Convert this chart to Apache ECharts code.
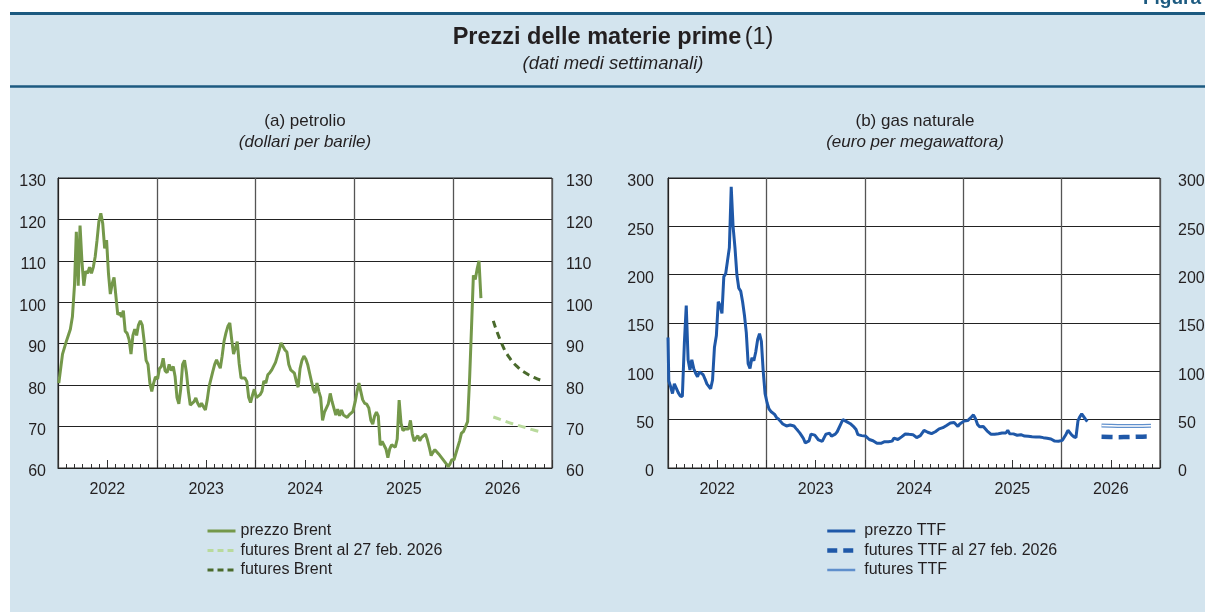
<!DOCTYPE html>
<html><head><meta charset="utf-8">
<script src="https://cdn.jsdelivr.net/npm/echarts@6/dist/echarts.min.js"></script>
<style>html,body{margin:0;padding:0;background:#fff}#c{width:1205px;height:612px}</style>
</head><body><div id="c"></div>
<script>
// ---------- DATA ----------
const yearLabels = ['2022','2023','2024','2025','2026'];
const brentTicks = [60,70,80,90,100,110,120,130];
const ttfTicks = [0,50,100,150,200,250,300];

// Brent weekly averages (USD/barrel), one array per year (weeks from early January)
const brent2022 = [80.5,84,87.5,89,90.5,92,93.5,96.5,104,117,104,118.5,110,104,107.5,107,108.5,107,108.5,111,115,119.5,121.5,119,113,115,107,102,104.5,106,101.5,97,97.5,96.5,98,93,92.5,91,87.5,92,93.5,92,94.5,95.5,94.5,90.5,86,85,80.5,78.5,80.5,82];
const brent2023 = [81.5,84,84.5,86.5,83.5,83,85,83.5,84.5,82,77,75.5,79,85,86,83,78.5,75.2,75.6,76,76.9,75.6,74.8,75.6,74.8,74,76.5,79.7,80,83.3,85,86.1,85,84.1,87,90.6,92.6,94.2,95,91,87.5,89,90.5,85.3,81.7,81.3,81.7,80.9,77,75.8,77.5,79];
const brent2024 = [77,77.3,77.7,78.5,81,80.5,82.5,83,83.7,83.3,85.5,87,88.5,90.2,90,88.5,88,85,83.7,83.3,82.9,81,79.5,84,86,87,86.3,85,83,81,79,78.1,80.5,78.5,77,71.5,73.5,73.6,75.5,78,76,74.4,72.8,74.2,72.6,74,72.8,72.8,72.2,72.8,73.2,73.6];
const brent2025 = [76,78.5,80.5,78.5,76.5,75.6,75.4,74.5,71.5,70.6,72.5,73.5,72.5,65.5,66.4,66.4,64.6,62.5,64.6,65.6,65.2,65,67,76.4,70.8,69,69.5,69.2,69.4,71.5,68.2,66.5,67.2,67.8,66.6,67.4,67.2,68.2,66.8,65,63,63.8,64.4,64,63.4,62.8,62.2,61.8,61,60.3,61,62];
const brent2026 = [62,63.5,65,66.5,68.4,68.8,70,71.2,82,94,106.5,105.5,108,110,101];

const futuresDates = ['2026-05-28','2026-06-28','2026-07-28','2026-08-28','2026-09-28','2026-10-28','2026-11-28'];
const brentFut27feb = [72.3,71.6,70.9,70.3,69.7,69.1,68.6];
const brentFut = [95.5,90,86.5,84.3,82.8,81.8,81];

// TTF weekly averages (EUR/MWh)
const ttfLeadDate = '2022-01-01';
const ttfLead = 135;
const ttf2022 = [90,84,77,87,88,78,74.5,74,130,168,112,101.5,112,103,98,94.5,99.5,100.5,96.5,92,87,85,82,91,125,137,172,168,160,198,201,203,228,291,250,228,200,186,183,172,158,140,108,103,114,111,120,133,139,131,100,77];
const ttf2023 = [67,61,58.5,57.5,55.5,52,50.5,48,45.5,44.5,43.5,41.5,44.5,42.5,43.5,41,38.7,36.3,33.5,30.5,26,24,28,35,34.5,34,33,29,27,27.5,28.5,35,36.8,36,33,31.8,35,37.5,37,46,50,50.7,48,46.5,45.8,44,42.2,39.8,34.5,34.2,33.5,32.8];
const ttf2024 = [33,31,29.5,28.6,28.2,27.5,25.5,24.5,25.5,26.5,27.2,27.9,27.2,29,27.8,31,30.5,29.5,30.5,32.2,34,35.2,35.5,34.8,34.8,34.5,32.5,31.5,32,33.5,35.5,39,38.5,37,35.8,35.5,34.8,37.5,39.5,40.5,41,41.7,42.2,44,45.7,46.5,46.6,47,47.6,43,45.5,47.5];
const ttf2025 = [48.5,47.6,49,50.5,52.8,55,51,45,42.6,42.8,43,41.8,38.5,36.5,35,36,35,34,35.5,36.2,36.2,36.2,36.2,39,35.5,34.8,35.3,34.5,33.9,34.2,34.5,32.8,33,33.1,32.8,32.8,32.3,32.1,32.1,32.1,32.1,31.8,31.4,31.4,30.8,30.4,30,28.6,27.8,27.6,27.6,28];
const ttf2026 = [28.6,30.5,35,39,37.3,34,32.3,31.5,49,53,56,54,50.5,48];

const ttfFut27feb = [32.2,32,31.9,32,32.2,32.4,32.5];
const ttfFut = [44,43.7,43.5,43.4,43.4,43.5,43.7];

// ---------- HELPERS ----------
function monthIndex(d){
  const y=d.getUTCFullYear(), m=d.getUTCMonth(), day=d.getUTCDate();
  const dim=new Date(Date.UTC(y,m+1,0)).getUTCDate();
  return (y-2022)*12 + m + (day-1)/dim;
}
function weekly(year, arr){
  return arr.map((v,i)=>[monthIndex(new Date(Date.UTC(year,0,4+7*i))), v]);
}
function dated(dates, arr){
  return arr.map((v,i)=>[monthIndex(new Date(dates[i]+'T00:00:00Z')), v]);
}
const brentPrice = [].concat(weekly(2022,brent2022),weekly(2023,brent2023),weekly(2024,brent2024),weekly(2025,brent2025),weekly(2026,brent2026));
const ttfPrice = [].concat(dated([ttfLeadDate],[ttfLead]),weekly(2022,ttf2022),weekly(2023,ttf2023),weekly(2024,ttf2024),weekly(2025,ttf2025),weekly(2026,ttf2026));

const FONT = 'Liberation Sans, Arial, sans-serif';
const TXT = '#231f20';

function xAxesFor(g){
  const base = {gridIndex:g, type:'value', min:0, max:60, position:'bottom',
    axisLabel:{show:false}, splitLine:{show:false}, axisLine:{show:false, onZero:false}, axisTick:{show:false}};
  return [
    Object.assign({}, base, {interval:1, axisLine:{show:true, onZero:false, lineStyle:{color:'#222', width:1}},
      axisTick:{show:true, inside:true, length:4, lineStyle:{color:'#333', width:1}}}),
    Object.assign({}, base, {interval:12, splitLine:{show:true, lineStyle:{color:'#555', width:1.3}}}),
    Object.assign({}, base, {interval:6, axisTick:{show:true, inside:true, length:8, lineStyle:{color:'#333', width:1}}}),
    {gridIndex:g, type:'category', data:yearLabels, boundaryGap:true, position:'bottom',
      axisLine:{show:false, onZero:false}, axisTick:{show:false}, splitLine:{show:false},
      axisLabel:{show:true, fontSize:16, color:TXT, fontFamily:FONT, margin:14}}
  ];
}
const tickRich = {t:{fontSize:16, color:TXT, fontFamily:FONT, padding:[8,0,0,0]}};
function yAxesFor(g, ticks, rightMargin, leftMargin){
  const mn=ticks[0], mx=ticks[ticks.length-1], iv=ticks[1]-ticks[0];
  return [
    {gridIndex:g, type:'value', position:'left', min:mn, max:mx, interval:iv,
      axisLine:{show:true, lineStyle:{color:'#222'}}, axisTick:{show:false},
      axisLabel:{margin:leftMargin, formatter:v=>'{t|'+v+'}', rich:tickRich},
      splitLine:{show:true, lineStyle:{color:'#222', width:1}}},
    {gridIndex:g, type:'value', position:'right', min:mn, max:mx, interval:iv,
      axisLine:{show:true, lineStyle:{color:'#222'}}, axisTick:{show:false},
      axisLabel:{margin:rightMargin, align:'left', formatter:v=>'{t|'+v+'}', rich:tickRich},
      splitLine:{show:false}}
  ];
}

const cBrent='#74984a', cBrentFut27='#b9da9c', cBrentFut='#4a6a2c';
const cTTF='#1f58a8', cTTFFut='#5f8fcc';
const legendBase = {orient:'vertical', top:523, padding:0, itemWidth:28, itemHeight:12, itemGap:3.5,
  itemStyle:{opacity:0, color:'rgba(0,0,0,0)', borderWidth:0}, selectedMode:false};

const option = {
  animation:false,
  textStyle:{fontFamily:FONT},
  graphic:[
    {type:'rect', z:-100, shape:{x:10,y:12,width:1195,height:600}, style:{fill:'#d3e4ee'}},
    {type:'line', z:-50, shape:{x1:10,y1:13.5,x2:1205,y2:13.5}, style:{stroke:'#1c5a80', lineWidth:3}},
    {type:'line', z:-50, shape:{x1:10,y1:86.5,x2:1205,y2:86.5}, style:{stroke:'#1c5a80', lineWidth:2.5}},
    {type:'text', x:1201, y:-1, style:{text:'Figura', fill:'#1c5a80', font:'bold 19px '+FONT, align:'right', verticalAlign:'middle'}},
    {type:'text', x:613, y:38, style:{text:'{b|Prezzi delle materie prime} {n|(1)}', align:'center', verticalAlign:'middle',
      rich:{b:{font:'bold 23.5px '+FONT, fill:TXT}, n:{font:'23.5px '+FONT, fill:TXT}}}},
    {type:'text', x:613, y:64, style:{text:'(dati medi settimanali)', fill:TXT, font:'italic 18.5px '+FONT, align:'center', verticalAlign:'middle'}},
    {type:'text', x:305, y:121, style:{text:'(a) petrolio', fill:TXT, font:'17px '+FONT, align:'center', verticalAlign:'middle'}},
    {type:'text', x:305, y:142, style:{text:'(dollari per barile)', fill:TXT, font:'italic 17px '+FONT, align:'center', verticalAlign:'middle'}},
    {type:'text', x:915, y:121, style:{text:'(b) gas naturale', fill:TXT, font:'17px '+FONT, align:'center', verticalAlign:'middle'}},
    {type:'text', x:915, y:142, style:{text:'(euro per megawattora)', fill:TXT, font:'italic 17px '+FONT, align:'center', verticalAlign:'middle'}}
  ],
  grid:[
    {left:58, top:178, width:494, height:290, show:true, backgroundColor:'#fff', borderColor:'#222', borderWidth:1, containLabel:false, outerBoundsMode:'none'},
    {left:668, top:178, width:492, height:290, show:true, backgroundColor:'#fff', borderColor:'#222', borderWidth:1, containLabel:false, outerBoundsMode:'none'}
  ],
  xAxis:[].concat(xAxesFor(0), xAxesFor(1)),
  yAxis:[].concat(yAxesFor(0, brentTicks, 14, 12), yAxesFor(1, ttfTicks, 18, 14)),
  legend:[
    Object.assign({}, legendBase, {left:206,
      data:[{name:'prezzo Brent', lineStyle:{width:3}},
            {name:'futures Brent al 27 feb. 2026', lineStyle:{width:3, type:[6,4]}},
            {name:'futures Brent', lineStyle:{width:3, type:[6,4]}}],
      textStyle:{fontSize:16, color:TXT, fontFamily:FONT}}),
    Object.assign({}, legendBase, {left:825,
      data:[{name:'prezzo TTF', lineStyle:{width:3}},
            {name:'futures TTF al 27 feb. 2026', lineStyle:{width:4.5, type:[10,6]}},
            {name:'futures TTF', lineStyle:{width:2.5, color:cTTFFut}}],
      textStyle:{fontSize:16, color:TXT, fontFamily:FONT, padding:[0,0,0,4]}})
  ],
  series:[
    {name:'prezzo Brent', type:'line', xAxisIndex:0, yAxisIndex:0, data:brentPrice, symbol:'none', clip:true,
      lineStyle:{color:cBrent, width:3}, itemStyle:{color:cBrent}},
    {name:'futures Brent al 27 feb. 2026', type:'line', xAxisIndex:0, yAxisIndex:0, data:dated(futuresDates, brentFut27feb), symbol:'none', smooth:true,
      lineStyle:{color:cBrentFut27, width:3, type:[8,5]}, itemStyle:{color:cBrentFut27}},
    {name:'futures Brent', type:'line', xAxisIndex:0, yAxisIndex:0, data:dated(futuresDates, brentFut), symbol:'none', smooth:true,
      lineStyle:{color:cBrentFut, width:3, type:[7,5]}, itemStyle:{color:cBrentFut}},
    {name:'prezzo TTF', type:'line', xAxisIndex:4, yAxisIndex:2, data:ttfPrice, symbol:'none', clip:true,
      lineStyle:{color:cTTF, width:3}, itemStyle:{color:cTTF}},
    {name:'futures TTF al 27 feb. 2026', type:'line', xAxisIndex:4, yAxisIndex:2, data:dated(futuresDates, ttfFut27feb), symbol:'none', smooth:true,
      lineStyle:{color:cTTF, width:4.5, type:[11,6]}, itemStyle:{color:cTTF}},
    {name:'futures TTF', type:'line', xAxisIndex:4, yAxisIndex:2, data:dated(futuresDates, ttfFut), symbol:'none', smooth:true,
      lineStyle:{color:cTTFFut, width:4}, itemStyle:{color:cTTFFut}},
    {name:'futures TTF (interno)', type:'line', xAxisIndex:4, yAxisIndex:2, data:dated(futuresDates, ttfFut), symbol:'none', smooth:true,
      lineStyle:{color:'#ffffff', width:1.5}, itemStyle:{color:'#ffffff'}, silent:true}
  ]
};
const chart = echarts.init(document.getElementById('c'));
chart.setOption(option);
</script>
</body></html>
